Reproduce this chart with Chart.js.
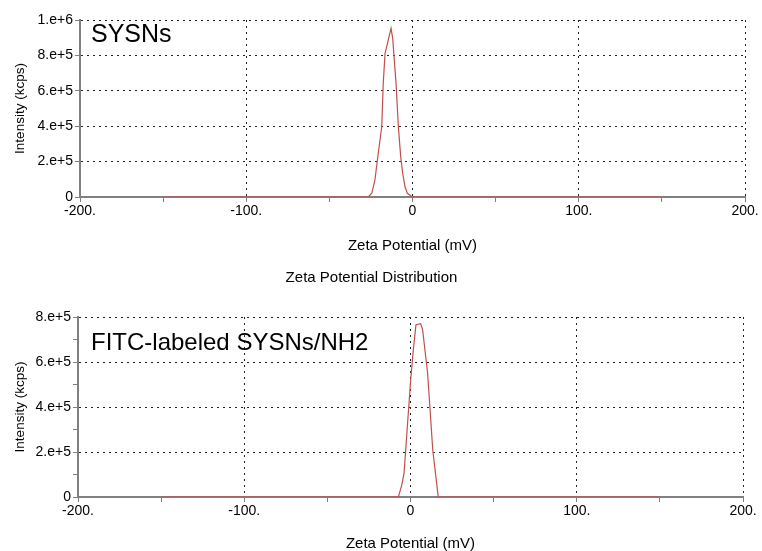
<!DOCTYPE html>
<html>
<head>
<meta charset="utf-8">
<script src="https://cdn.jsdelivr.net/npm/chart.js@4"></script>
<style>
  body { margin: 0; background: #fff; width: 762px; height: 551px; overflow: hidden; }
  .box { position: absolute; left: 0; width: 762px; }
</style>
</head>
<body>
<div class="box" style="top:0;height:255px"><canvas id="topChart"></canvas></div>
<div class="box" style="top:262px;height:291px"><canvas id="bottomChart"></canvas></div>
<script>
// Zeta potential (mV) and intensity (kcps)
const sysnsZeta = [-150, -26.6, -24.5, -22.6, -20.6, -18.5, -17.6, -16.5, -12.9, -11.9, -9.9, -8.5, -7.1, -5.9, -4.5, -3.1, 0, 150];
const sysnsIntensity = [0, 0, 21000, 96000, 247000, 397000, 642000, 812000, 953000, 896000, 642000, 397000, 228000, 134000, 58000, 21000, 0, 0];

const fitcZeta = [-150, -7.3, -5.3, -3.9, -1.9, 0.1, 1.7, 3.3, 6.1, 7.3, 10.3, 13.4, 16.7, 150];
const fitcIntensity = [0, 0, 52000, 104000, 312000, 520000, 654000, 766000, 770000, 743000, 550000, 208000, 0, 0];

const xTickLabels = { '-200': '-200.', '-100': '-100.', '0': '0', '100': '100.', '200': '200.' };
const yTickLabels = { '0': '0', '200000': '2.e+5', '400000': '4.e+5', '600000': '6.e+5', '800000': '8.e+5', '1000000': '1.e+6' };

const FONT = '"Liberation Sans", Arial, sans-serif';
const AXIS_GRAY = '#808080';
const LINE_RED = '#c0504d';

// draws the sample name inside the plot area
const sampleLabel = {
    id: 'sampleLabel',
    afterDraw(chart, args, opts) {
        const ctx = chart.ctx;
        const area = chart.chartArea;
        ctx.save();
        ctx.font = opts.size + 'px ' + FONT;
        ctx.fillStyle = '#000';
        ctx.textBaseline = 'alphabetic';
        ctx.fillText(opts.text, area.left + opts.dx, area.top + opts.dy);
        ctx.restore();
    }
};

function makeChart(id, zeta, intensity, yMax, cfg) {
    const ctx = document.getElementById(id).getContext('2d');
    return new Chart(ctx, {
        type: 'line',
        data: {
            datasets: [{
                data: zeta.map((x, i) => ({ x: x, y: intensity[i] })),
                borderColor: LINE_RED,
                borderWidth: 1.2,
                pointRadius: 0,
                tension: 0,
                fill: false
            }]
        },
        options: {
            responsive: true,
            maintainAspectRatio: false,
            animation: false,
            layout: { padding: cfg.padding },
            plugins: {
                legend: { display: false },
                tooltip: { enabled: false },
                title: cfg.title,
                sampleLabel: cfg.label
            },
            scales: {
                x: {
                    type: 'linear',
                    min: -200,
                    max: 200,
                    ticks: {
                        stepSize: 50,
                        autoSkip: false,
                        maxRotation: 0,
                        padding: 1,
                        color: '#000',
                        font: { family: FONT, size: 14 },
                        callback: v => xTickLabels[String(v)] || ''
                    },
                    grid: {
                        color: c => (c.tick && c.tick.value % 100 === 0 && c.tick.value !== -200) ? '#222' : 'transparent',
                        tickColor: AXIS_GRAY,
                        tickLength: 5,
                        lineWidth: 1
                    },
                    border: { color: AXIS_GRAY, width: 2, dash: [2, 4] },
                    title: {
                        display: true,
                        text: 'Zeta Potential (mV)',
                        color: '#000',
                        font: { family: FONT, size: 15 },
                        padding: { top: 0, bottom: 0 }
                    },
                    afterFit: s => { s.height = cfg.xHeight; }
                },
                y: {
                    min: 0,
                    max: yMax,
                    ticks: {
                        stepSize: 100000,
                        padding: 2,
                        color: '#000',
                        font: { family: FONT, size: 14 },
                        callback: v => yTickLabels[String(Math.round(v))] || ''
                    },
                    grid: {
                        color: c => (c.tick && c.tick.value > 0 && Math.round(c.tick.value) % 200000 === 0) ? '#222' : 'transparent',
                        tickColor: AXIS_GRAY,
                        tickLength: 5,
                        lineWidth: 1
                    },
                    border: { color: AXIS_GRAY, width: 2, dash: [2, 4] },
                    title: {
                        display: true,
                        text: 'Intensity (kcps)',
                        color: '#000',
                        font: { family: FONT, size: 13.5 },
                        padding: { top: 12, bottom: 0 }
                    },
                    afterFit: s => { s.width = cfg.yWidth; }
                }
            }
        },
        plugins: [sampleLabel]
    });
}

makeChart('topChart', sysnsZeta, sysnsIntensity, 1000000, {
    padding: { top: 20, right: 17, left: 0, bottom: 0 },
    title: { display: false },
    label: { text: 'SYSNs', size: 25, dx: 11, dy: 22 },
    xHeight: 58,
    yWidth: 80
});

makeChart('bottomChart', fitcZeta, fitcIntensity, 800000, {
    padding: { top: 0, right: 19, left: 0, bottom: 0 },
    title: {
        display: true,
        text: 'Zeta Potential Distribution',
        color: '#000',
        font: { family: FONT, size: 15, weight: 'normal' },
        padding: { top: 7, bottom: 30 }
    },
    label: { text: 'FITC-labeled SYSNs/NH2', size: 24, dx: 13, dy: 33 },
    xHeight: 56,
    yWidth: 78
});
</script>
</body>
</html>
